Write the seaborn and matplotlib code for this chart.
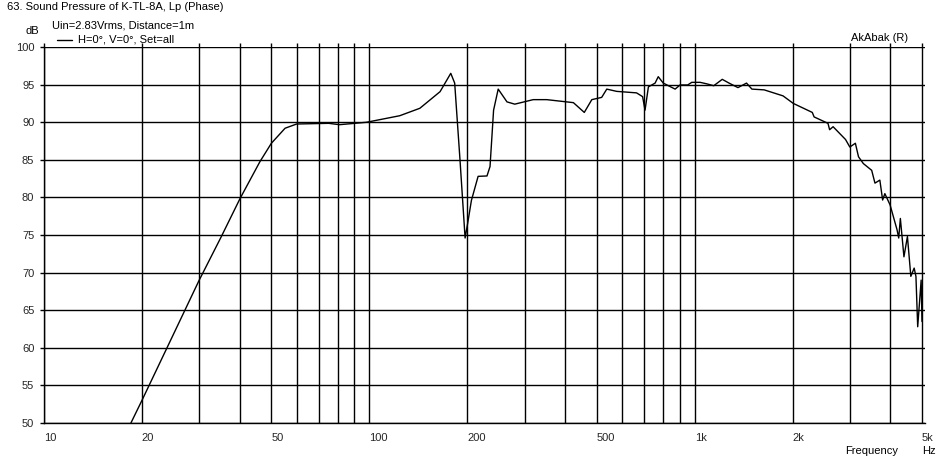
import numpy as np
import pandas as pd
import matplotlib
matplotlib.use("Agg")
import matplotlib.pyplot as plt
import seaborn as sns
from matplotlib.lines import Line2D

# ---- data ----
freq_hz = [18.5, 20, 25, 30, 35, 40, 46.1, 50, 55.1, 59.8, 75, 81, 98, 124,
           143, 165, 178, 183, 190, 197, 200.7, 206, 216, 230, 235, 241, 249,
           265, 280, 319, 351, 424, 458, 483, 518, 537, 576, 663, 692, 704,
           721, 756, 773, 801, 871, 902, 952, 980, 1040, 1090, 1145, 1216,
           1276, 1359, 1444, 1500, 1636, 1870, 2010, 2300, 2330, 2570, 2600,
           2665, 2910, 3000, 3120, 3190, 3301, 3502, 3584, 3710, 3784, 3844,
           3989, 4190, 4240, 4290, 4400, 4510, 4620, 4730, 4790, 4850, 4910,
           4970, 5000]
spl_db = [50.0, 53.0, 61.8, 69.0, 74.7, 79.8, 84.75, 87.2, 89.2, 89.76, 89.85,
          89.67, 89.99, 90.86, 91.85, 94.06, 96.5, 95.2, 85.0, 74.6, 76.6,
          79.6, 82.8, 82.85, 84.1, 91.6, 94.4, 92.7, 92.4, 93.0, 93.0, 92.6,
          91.3, 93.0, 93.3, 94.4, 94.1, 93.9, 93.4, 91.6, 94.7, 95.2, 96.05,
          95.2, 94.4, 94.95, 94.95, 95.3, 95.3, 95.1, 94.85, 95.7, 95.2, 94.6,
          95.2, 94.4, 94.3, 93.5, 92.5, 91.3, 90.7, 89.85, 89.0, 89.4, 87.7,
          86.7, 87.2, 85.4, 84.5, 83.6, 81.9, 82.3, 79.65, 80.5, 79.0, 75.7,
          74.6, 77.2, 72.1, 74.8, 69.5, 70.6, 69.5, 62.8, 65.9, 69.0, 63.5]

major_ticks = [10, 20, 50, 100, 200, 500, 1000, 2000, 5000]
major_labels = ["10", "20", "50", "100", "200", "500", "1k", "2k", "5k"]
minor_ticks = [30, 40, 60, 70, 80, 90, 300, 400, 600, 700, 800, 900, 3000, 4000]
y_ticks = [50, 55, 60, 65, 70, 75, 80, 85, 90, 95, 100]

title_text = "63. Sound Pressure of K-TL-8A, Lp (Phase)"
subtitle_text = "Uin=2.83Vrms, Distance=1m"
legend_text = "H=0°, V=0°, Set=all"
brand_text = "AkAbak (R)"

df = pd.DataFrame({"Frequency": freq_hz, "SPL": spl_db})

# ---- style ----
sns.set_style("white")
plt.rcParams["font.family"] = ["Liberation Sans", "DejaVu Sans"]
plt.rcParams["font.size"] = 8

W, H = 948, 463
fig = plt.figure(figsize=(W / 100, H / 100), dpi=100)
left_px, right_px, top_px, bot_px = 44, 925, 47, 423
ax = fig.add_axes([left_px / W, 1 - bot_px / H,
                   (right_px - left_px) / W, (bot_px - top_px) / H])

sns.lineplot(data=df, x="Frequency", y="SPL", ax=ax, color="black",
             linewidth=1.0, estimator=None, sort=False, legend=False)

ax.set_xscale("log")
ax.set_xlim(10, 10 ** (np.log10(5000) + 3 / 325.3))
ax.set_ylim(50, 100)

ax.set_xticks(major_ticks)
ax.set_xticklabels(major_labels, ha="left")
ax.set_xticks(minor_ticks, minor=True)
ax.set_xticklabels([], minor=True)
ax.set_yticks(y_ticks)
ax.set_yticklabels([str(v) for v in y_ticks])

ax.grid(True, which="both", axis="x", color="black", linewidth=1.0)
ax.grid(True, which="major", axis="y", color="black", linewidth=1.0)
ax.set_axisbelow(True)

for s in ["top", "right"]:
    ax.spines[s].set_visible(False)
for s in ["left", "bottom"]:
    ax.spines[s].set_color("black")
    ax.spines[s].set_linewidth(1.0)

ax.tick_params(axis="x", which="both", bottom=False, top=True, direction="out",
               length=3, width=1, color="black", labelsize=8, pad=4.5,
               labelbottom=True, labeltop=False)
ax.tick_params(axis="y", which="major", left=True, direction="out", length=3,
               width=1, color="black", labelsize=8, pad=4)
ax.set_xlabel("")
ax.set_ylabel("")

# ---- texts ----
def ftext(x, y, s, **kw):
    fig.text(x / W, 1 - y / H, s, fontsize=8, color="black", va="center", **kw)

ftext(7, 7, title_text)
ftext(52, 25, subtitle_text)
ftext(26, 31, "dB")
ftext(78, 40, legend_text)
ftext(851, 38, brand_text)
ftext(845, 451, "Frequency")
ftext(922, 451, "Hz")
fig.add_artist(Line2D([57 / W, 72 / W], [1 - 40 / H, 1 - 40 / H],
                      color="black", linewidth=1.0))

fig.savefig("out.png", dpi=100, facecolor="white")
